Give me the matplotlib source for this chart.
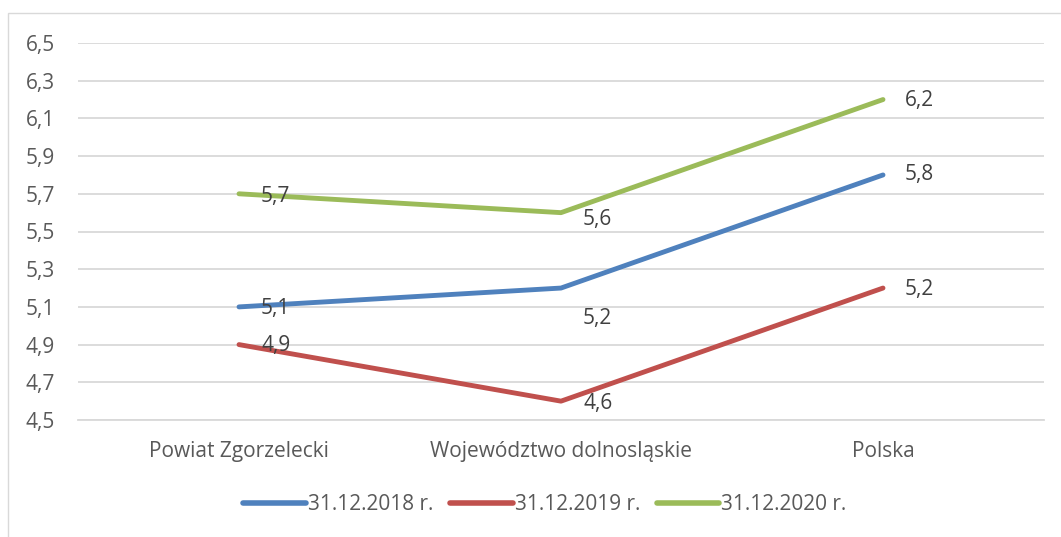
import matplotlib
matplotlib.use('Agg')
import matplotlib.pyplot as plt
from matplotlib.patches import Rectangle

categories = ['Powiat Zgorzelecki', 'Województwo dolnosląskie', 'Polska']
series_names = ['31.12.2018 r.', '31.12.2019 r.', '31.12.2020 r.']
values_2018 = [5.1, 5.2, 5.8]
values_2019 = [4.9, 4.6, 5.2]
values_2020 = [5.7, 5.6, 6.2]
y_ticks = [4.5, 4.7, 4.9, 5.1, 5.3, 5.5, 5.7, 5.9, 6.1, 6.3, 6.5]

colors = ['#4F81BD', '#C0504D', '#9BBB59']
txt_col = '#595959'
grid_col = '#D9D9D9'
# label offsets in pixels (dx, dy) per series / point
label_off = [
    [(22, -2), (22, -30), (22, 0)],
    [(22, -1), (22, -2), (22, -1)],
    [(22, -3), (22, -7), (22, -1)],
]

plt.rcParams['font.family'] = ['Open Sans', 'DejaVu Sans']
FS = 15

fig = plt.figure(figsize=(10.61, 5.37), dpi=100)
W, H = 1061, 537
ax = fig.add_axes([78 / W, 1 - 420 / H, (1044 - 78) / W, (420 - 43) / H])

fig.patches.append(Rectangle((8 / W, -0.1), 1.2, 1 - 13 / H + 0.1,
                             transform=fig.transFigure, fill=False,
                             edgecolor='#D9D9D9', linewidth=1))

x = list(range(len(categories)))
all_vals = [values_2018, values_2019, values_2020]
for i, (vals, name) in enumerate(zip(all_vals, series_names)):
    ax.plot(x, vals, color=colors[i], linewidth=3.5, label=name,
            solid_capstyle='round', zorder=3)
    for j, v in enumerate(vals):
        dx, dy = label_off[i][j]
        ax.annotate(f'{v:.1f}'.replace('.', ','), xy=(j, v),
                    xytext=(dx, dy), textcoords='offset pixels',
                    ha='left', va='center', fontsize=FS, color='#404040',
                    zorder=4)

ax.set_xlim(-0.5, 2.5)
ax.set_ylim(4.5, 6.5)
ax.set_yticks(y_ticks)
ax.set_yticklabels([f'{t:.1f}'.replace('.', ',') for t in y_ticks])
ax.set_xticks(x)
ax.set_xticklabels(categories)
ax.tick_params(axis='both', length=0, colors=txt_col, labelsize=FS)
ax.tick_params(axis='y', pad=16.5)
ax.tick_params(axis='x', pad=15)
ax.grid(True, axis='y', color=grid_col, linewidth=1.3)
ax.set_axisbelow(True)
for side in ['top', 'right', 'left']:
    ax.spines[side].set_visible(False)
ax.spines['bottom'].set_color(grid_col)
ax.spines['bottom'].set_linewidth(1.3)

leg = fig.legend(loc='center', bbox_to_anchor=(545 / W, 1 - 505 / H), ncol=3,
                 frameon=False, fontsize=FS, labelcolor=txt_col,
                 handlelength=3.0, handletextpad=0.1, columnspacing=0.8)
for line in leg.get_lines():
    line.set_linewidth(4)

fig.savefig('out.png', dpi=100)
